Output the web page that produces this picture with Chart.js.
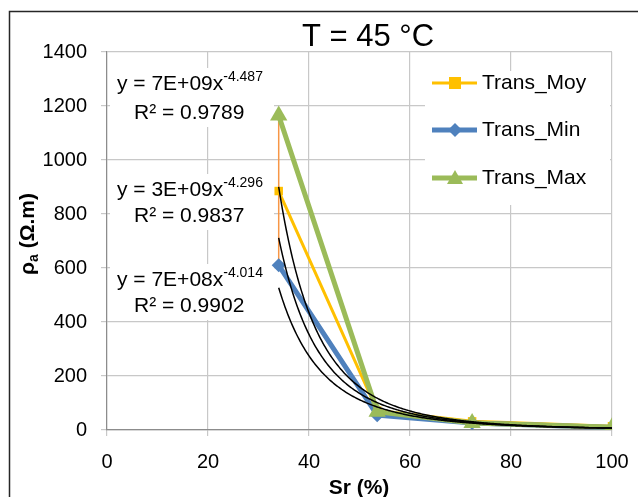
<!DOCTYPE html>
<html>
<head>
<meta charset="utf-8">
<script src="https://cdn.jsdelivr.net/npm/chart.js@4"></script>
<style>
    body { margin: 0; background: #fff; }
    canvas { display: block; }
</style>
</head>
<body>
<canvas id="chart" width="638" height="497"></canvas>
<script>
// Données
const srValues = [34, 53.5, 72.3, 100];
const transMoy = [885, 72, 32, 14];
const transMin = [610, 55, 26, 9];
const transMax = [1165, 68, 26, 10];

const seriesNames = ['Trans_Moy', 'Trans_Min', 'Trans_Max'];
const xTicks = [0, 20, 40, 60, 80, 100];
const yTicks = [0, 200, 400, 600, 800, 1000, 1200, 1400];

// Courbes de tendance (puissance) affichées sur la figure
const trendA = [6.7e9, 2.7e9, 7.4e8];
const trendB = [-4.487, -4.296, -4.014];
const trendText = ['y = 7E+09x', 'y = 3E+09x', 'y = 7E+08x'];
const trendExp = ['-4.487', '-4.296', '-4.014'];
const trendR2 = ['R² = 0.9789', 'R² = 0.9837', 'R² = 0.9902'];

const FONT = '"Liberation Sans", Arial, sans-serif';
const colors = { moy: '#FFC000', min: '#4F81BD', max: '#9BBB59', hilo: '#F79646' };

function toPoints(xs, ys) {
    return xs.map((x, i) => ({ x: x, y: ys[i] }));
}

// Marqueurs de la légende
function drawMarker(ctx, style, x, y, color) {
    ctx.save();
    ctx.fillStyle = color;
    ctx.beginPath();
    if (style === 'rect') {
        ctx.rect(x - 6, y - 6, 12, 12);
    } else if (style === 'rectRot') {
        ctx.moveTo(x, y - 7); ctx.lineTo(x + 7, y); ctx.lineTo(x, y + 7); ctx.lineTo(x - 7, y);
    } else {
        ctx.moveTo(x, y - 8); ctx.lineTo(x + 8, y + 6); ctx.lineTo(x - 8, y + 6);
    }
    ctx.closePath();
    ctx.fill();
    ctx.restore();
}

// Cadre, titres et équations des tendances
const decorPlugin = {
    id: 'decor',
    beforeDatasetsDraw(chart) {
        const ctx = chart.ctx;
        const labelY = [[84, 113], [190, 216], [280, 306]];
        ctx.save();
        labelY.forEach((ly, i) => {
            ctx.fillStyle = '#fff';
            ctx.fillRect(110, ly[0] - 16, 164, ly[1] - ly[0] + 30);
            ctx.fillStyle = '#000';
            ctx.textBaseline = 'middle';
            ctx.textAlign = 'left';
            ctx.font = '21px ' + FONT;
            ctx.fillText(trendText[i], 117, ly[0]);
            const w = ctx.measureText(trendText[i]).width;
            ctx.font = '14px ' + FONT;
            ctx.fillText(trendExp[i], 117 + w, ly[0] - 7);
            ctx.font = '21px ' + FONT;
            ctx.fillText(trendR2[i], 134, ly[1]);
        });
        ctx.restore();
    },
    afterDatasetsDraw(chart) {
        const ctx = chart.ctx;
        const xs = chart.scales.x, ys = chart.scales.y;
        const area = chart.chartArea;
        ctx.save();
        ctx.beginPath();
        ctx.rect(area.left, area.top, area.right - area.left, area.bottom - area.top);
        ctx.clip();
        ctx.strokeStyle = '#000';
        ctx.lineWidth = 1.5;
        trendA.forEach((a, k) => {
            ctx.beginPath();
            for (let x = srValues[0]; x <= srValues[srValues.length - 1]; x += 0.25) {
                const px = xs.getPixelForValue(x);
                const py = ys.getPixelForValue(a * Math.pow(x, trendB[k]));
                if (x === srValues[0]) ctx.moveTo(px, py); else ctx.lineTo(px, py);
            }
            ctx.stroke();
        });
        ctx.restore();
    },
    afterDraw(chart) {
        const ctx = chart.ctx;
        ctx.save();
        // cadre extérieur
        ctx.strokeStyle = '#262626';
        ctx.lineWidth = 1.5;
        ctx.strokeRect(9.5, 11.5, 700, 600);

        // titre
        ctx.fillStyle = '#000';
        ctx.textAlign = 'center';
        ctx.textBaseline = 'alphabetic';
        ctx.font = '31px ' + FONT;
        ctx.fillText('T = 45 °C', 368, 46);

        // titre axe x
        ctx.font = 'bold 21px ' + FONT;
        ctx.textBaseline = 'middle';
        ctx.fillText('Sr (%)', 359, 488);

        // titre axe y avec indice
        ctx.translate(28, 234);
        ctx.rotate(-Math.PI / 2);
        const p1 = 'ρ', p2 = 'a', p3 = ' (Ω.m)';
        ctx.font = 'bold 21px ' + FONT;
        const w1 = ctx.measureText(p1).width, w3 = ctx.measureText(p3).width;
        ctx.font = 'bold 14px ' + FONT;
        const w2 = ctx.measureText(p2).width;
        let x0 = -(w1 + w2 + w3) / 2;
        ctx.textAlign = 'left';
        ctx.font = 'bold 21px ' + FONT;
        ctx.fillText(p1, x0, 0);
        ctx.font = 'bold 14px ' + FONT;
        ctx.fillText(p2, x0 + w1, 6);
        ctx.font = 'bold 21px ' + FONT;
        ctx.fillText(p3, x0 + w1 + w2, 0);
        ctx.restore();

        // légende
        ctx.save();
        ctx.fillStyle = '#fff';
        ctx.fillRect(425, 71, 185, 134);
        const items = [
            { c: colors.moy, s: 'rect', w: 3, y: 83 },
            { c: colors.min, s: 'rectRot', w: 5, y: 130 },
            { c: colors.max, s: 'triangle', w: 5, y: 178 }
        ];
        items.forEach((it, i) => {
            ctx.strokeStyle = it.c;
            ctx.lineWidth = it.w;
            ctx.beginPath();
            ctx.moveTo(432, it.y); ctx.lineTo(477, it.y);
            ctx.stroke();
            drawMarker(ctx, it.s, 455, it.y, it.c);
            ctx.fillStyle = '#000';
            ctx.font = '21px ' + FONT;
            ctx.textAlign = 'left';
            ctx.textBaseline = 'middle';
            ctx.fillText(seriesNames[i], 482, it.y);
        });
        ctx.restore();
    }
};

new Chart(document.getElementById('chart'), {
    type: 'scatter',
    data: {
        datasets: [
            {
                label: 'hilo',
                data: [{ x: srValues[0], y: transMax[0] }, { x: srValues[0], y: transMin[0] }],
                showLine: true,
                borderColor: colors.hilo,
                borderWidth: 1.5,
                pointRadius: 0,
                order: 4
            },
            {
                label: seriesNames[0],
                data: toPoints(srValues, transMoy),
                showLine: true,
                borderColor: colors.moy,
                backgroundColor: colors.moy,
                borderWidth: 3,
                pointStyle: 'rect',
                pointRadius: 6,
                pointBorderWidth: 0,
                order: 3
            },
            {
                label: seriesNames[1],
                data: toPoints(srValues, transMin),
                showLine: true,
                borderColor: colors.min,
                backgroundColor: colors.min,
                borderWidth: 5,
                pointStyle: 'rectRot',
                pointRadius: 7,
                pointBorderWidth: 0,
                order: 2
            },
            {
                label: seriesNames[2],
                data: toPoints(srValues, transMax),
                showLine: true,
                borderColor: colors.max,
                backgroundColor: colors.max,
                borderWidth: 5,
                pointStyle: 'triangle',
                pointRadius: 10,
                pointBorderWidth: 0,
                order: 1
            }
        ]
    },
    options: {
        responsive: false,
        animation: false,
        layout: { padding: { top: 52, right: 26, left: 0, bottom: 0 } },
        plugins: {
            legend: { display: false },
            tooltip: { enabled: false }
        },
        scales: {
            x: {
                type: 'linear',
                min: xTicks[0],
                max: xTicks[xTicks.length - 1],
                afterBuildTicks: (s) => { s.ticks = xTicks.map(v => ({ value: v })); },
                afterFit: (s) => { s.height = 67; s.paddingRight = 0; s.paddingLeft = 0; },
                ticks: { color: '#000', font: { family: FONT, size: 20 }, padding: 14, maxRotation: 0, callback: (v) => String(v) },
                grid: { color: '#C8C8C8', lineWidth: 1.2, tickLength: 6 },
                border: { color: '#8C8C8C', width: 1.2 }
            },
            y: {
                min: yTicks[0],
                max: yTicks[yTicks.length - 1],
                afterBuildTicks: (s) => { s.ticks = yTicks.map(v => ({ value: v })); },
                afterFit: (s) => { s.width = 107; s.paddingTop = 0; s.paddingBottom = 0; },
                ticks: { color: '#000', font: { family: FONT, size: 20 }, padding: 14, callback: (v) => String(v) },
                grid: { color: '#C8C8C8', lineWidth: 1.2, tickLength: 6 },
                border: { color: '#8C8C8C', width: 1.2 }
            }
        }
    },
    plugins: [decorPlugin]
});
</script>
</body>
</html>
